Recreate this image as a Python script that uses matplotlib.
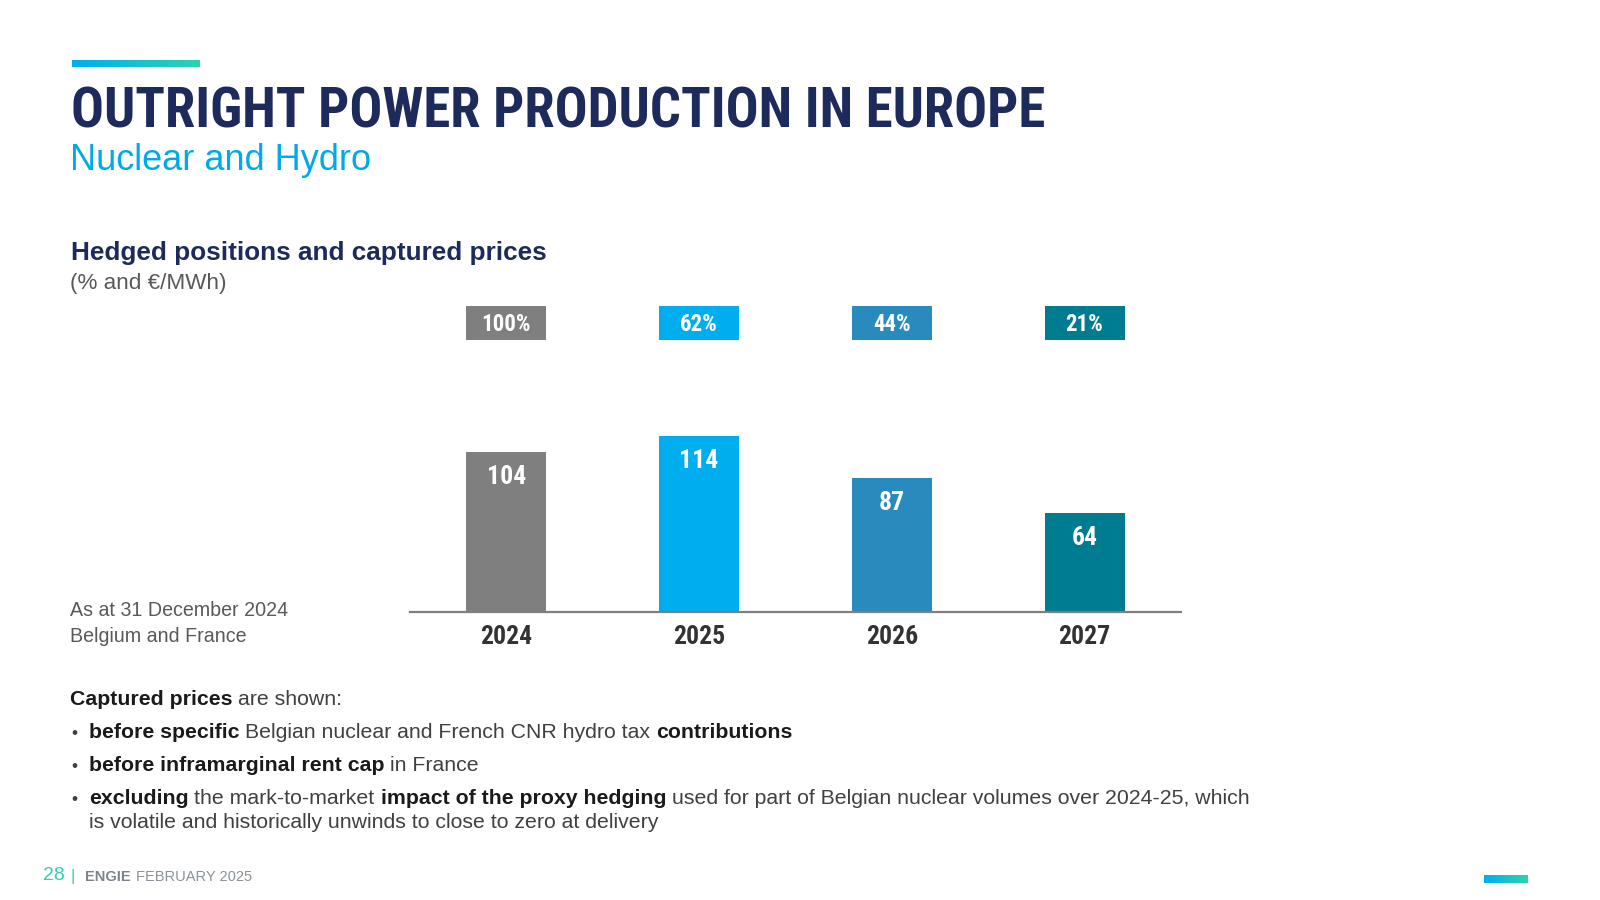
"""
plot.py - hedged positions and captured prices slide (nuclear and hydro).
"""

import numpy as np
import matplotlib
matplotlib.use("Agg")
import matplotlib.pyplot as plt
import matplotlib.transforms as mtransforms
from matplotlib import font_manager
from matplotlib.patches import Rectangle
from matplotlib.colors import LinearSegmentedColormap


years = ["2024", "2025", "2026", "2027"]
captured_prices = [104, 114, 87, 64]
hedged_labels = ["100%", "62%", "44%", "21%"]
bar_colors = ["#7F7F7F", "#00ADEF", "#298BBD", "#007C91"]

NAVY = "#1C2A5C"
SKY = "#00AAE8"
TEAL = "#2DD4B0"
GREY_TXT = "#595959"

W, H = 1600, 900

# ── Fonts ─────────────────────────────────────────────────────────────────────
_fonts = font_manager.fontManager.ttflist
_names = {f.name for f in _fonts}


def first_font(*names):
    for n in names:
        if n in _names:
            return n
    return "DejaVu Sans"


BODY = first_font("Liberation Sans", "Arial", "Roboto")
NARROW = first_font("Liberation Sans Narrow", "Roboto Condensed", "Arial Narrow")
NARROW_STRETCH = "normal"
if NARROW == "DejaVu Sans":
    NARROW_STRETCH = "condensed"


def fx(x):
    return x / W


def fy(y):
    return 1 - y / H


fig = plt.figure(figsize=(16, 9), dpi=100)
fig.patch.set_facecolor("white")
renderer = fig.canvas.get_renderer()

grad_cmap = LinearSegmentedColormap.from_list("engie", ["#00AEEF", TEAL])


def gradient_bar(x0, y0, x1, y1):
    gax = fig.add_axes([fx(x0), fy(y1), fx(x1 - x0), (y1 - y0) / H])
    gax.imshow(np.linspace(0, 1, 256)[None, :], aspect="auto", cmap=grad_cmap)
    gax.set_axis_off()


def rich_line(x, y, parts, size, c_reg="#404040", c_bold="#1A1A1A"):
    """Write text segments (text, bold) one after another on a baseline."""
    cur = x
    for txt, bold in parts:
        w = "bold" if bold else "normal"
        t = fig.text(fx(cur), fy(y), txt, fontsize=size, family=BODY,
                     fontweight=w, color=c_bold if bold else c_reg,
                     va="baseline", ha="left")
        a = fig.text(0, 0, "a a", fontsize=size, family=BODY, fontweight=w)
        b = fig.text(0, 0, "aa", fontsize=size, family=BODY, fontweight=w)
        space = (a.get_window_extent(renderer).width
                 - b.get_window_extent(renderer).width)
        a.remove()
        b.remove()
        cur += t.get_window_extent(renderer).width + space


# ── Header ────────────────────────────────────────────────────────────────────
gradient_bar(72, 60, 200, 67)
fig.text(fx(71), fy(113), "OUTRIGHT POWER PRODUCTION IN EUROPE", fontsize=39.4,
         family=NARROW, fontstretch=NARROW_STRETCH, fontweight="bold",
         color=NAVY, va="center", ha="left")
fig.text(fx(70), fy(160), "Nuclear and Hydro", fontsize=26, family=BODY,
         color=SKY, va="center", ha="left")

fig.text(fx(71), fy(253), "Hedged positions and captured prices", fontsize=18.8,
         family=BODY, fontweight="bold", color=NAVY, va="center", ha="left")
fig.text(fx(70), fy(283), "(% and €/MWh)", fontsize=16.2, family=BODY,
         color=GREY_TXT, va="center", ha="left")

fig.text(fx(70), fy(610), "As at 31 December 2024", fontsize=14.1, family=BODY,
         color=GREY_TXT, va="center", ha="left")
fig.text(fx(70), fy(636), "Belgium and France", fontsize=14.1, family=BODY,
         color=GREY_TXT, va="center", ha="left")

# ── Bar chart ─────────────────────────────────────────────────────────────────
ax_top, ax_bottom = 300, 612
ax = fig.add_axes([fx(410), fy(ax_bottom), fx(1181 - 410), (ax_bottom - ax_top) / H])
x = np.arange(len(years))
ax.bar(x, captured_prices, width=0.414, color=bar_colors, zorder=2)
ax.set_xlim(-0.5, len(years) - 0.5)
ax.set_ylim(0, (ax_bottom - ax_top) / 1.54)

for i, v in enumerate(captured_prices):
    ax.annotate(str(v), (i, v), xytext=(0, -18), textcoords="offset points",
                ha="center", va="center", color="white", fontsize=18.5,
                family=NARROW, fontstretch=NARROW_STRETCH, fontweight="bold")

# hedged-share boxes above the bars
trans = mtransforms.blended_transform_factory(ax.transData, ax.transAxes)
box_bottom = (ax_bottom - 340) / (ax_bottom - ax_top)
box_top = (ax_bottom - 306) / (ax_bottom - ax_top)
for i, (lbl, c) in enumerate(zip(hedged_labels, bar_colors)):
    ax.add_patch(Rectangle((i - 0.207, box_bottom), 0.414, box_top - box_bottom,
                           transform=trans, facecolor=c, edgecolor="none",
                           clip_on=False))
    ax.text(i, (box_top + box_bottom) / 2 - 0.005, lbl, transform=trans,
            ha="center", va="center", color="white", fontsize=16.5,
            family=NARROW, fontstretch=NARROW_STRETCH, fontweight="bold")

ax.set_xticks(x)
ax.set_xticklabels(years, fontsize=18.5, family=NARROW, fontstretch=NARROW_STRETCH,
                   fontweight="bold", color="#333333")
ax.tick_params(axis="x", length=0, pad=9)
ax.set_yticks([])
for side in ["left", "right", "top"]:
    ax.spines[side].set_visible(False)
ax.spines["bottom"].set_color("#7F7F7F")
ax.spines["bottom"].set_linewidth(1.6)
ax.patch.set_alpha(0)

# ── Notes ─────────────────────────────────────────────────────────────────────
BODY_SIZE = 15.3
rich_line(70, 705, [("Captured prices", True), ("are shown:", False)], BODY_SIZE)

bullets = [
    (738, [("before specific", True),
           ("Belgian nuclear and French CNR hydro tax", False),
           ("contributions", True)]),
    (771, [("before inframarginal rent cap", True), ("in France", False)]),
    (804, [("excluding", True), ("the mark-to-market", False),
           ("impact of the proxy hedging", True),
           ("used for part of Belgian nuclear volumes over 2024-25, which", False)]),
]
for yb, parts in bullets:
    fig.text(fx(71), fy(yb), "•", fontsize=12.5, family=BODY,
             color="#404040", va="baseline", ha="left")
    rich_line(89, yb, parts, BODY_SIZE)
rich_line(89, 828, [("is volatile and historically unwinds to close to zero at delivery",
                     False)], BODY_SIZE)

# ── Footer ────────────────────────────────────────────────────────────────────
fig.text(fx(43), fy(876), "28", fontsize=14, family=BODY, color=TEAL,
         va="center", ha="left")
fig.text(fx(70), fy(876), "|", fontsize=12, family=BODY, color=TEAL,
         va="center", ha="left")
fig.text(fx(85), fy(877), "ENGIE", fontsize=10.5, family=BODY, fontweight="bold",
         color="#7B848C", va="center", ha="left")
fig.text(fx(136), fy(877), "FEBRUARY 2025", fontsize=10.5, family=BODY,
         color="#8A9299", va="center", ha="left")
gradient_bar(1484, 875, 1528, 883)

fig.savefig("out.png", dpi=100, facecolor="white")
